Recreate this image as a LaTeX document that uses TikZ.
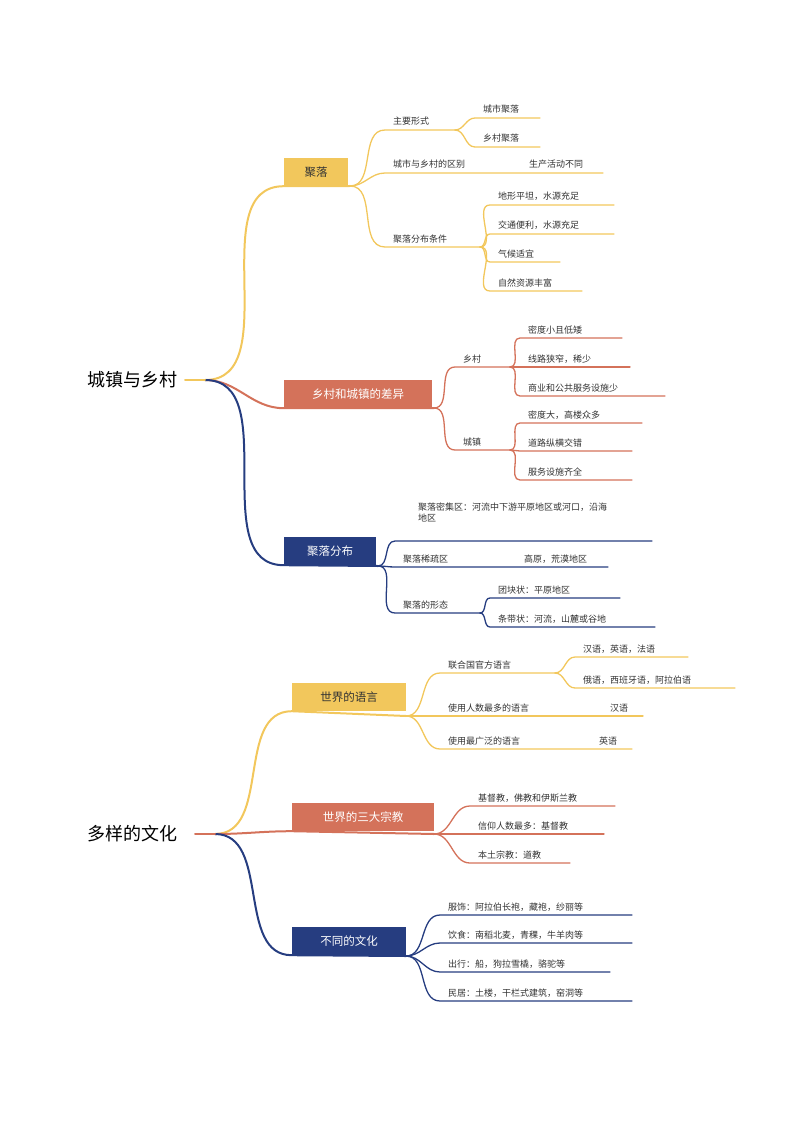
\documentclass[tikz,border=0pt]{standalone}
\usepackage{fontspec}
\setmainfont{Noto Sans CJK SC}
\definecolor{cy}{HTML}{F2C75C}
\definecolor{co}{HTML}{D4725A}
\definecolor{cn}{HTML}{263D80}
\definecolor{ct}{HTML}{333333}
\tikzset{
  txt/.style={font=\fontsize{9}{10.5}\selectfont, text=ct, inner sep=0pt},
  mainbr/.style={line width=2pt, line cap=round},
  subbr/.style={line width=1.3pt, line cap=round},
  boxy/.style={fill=#1, minimum height=28pt, inner sep=4pt, font=\fontsize{11.5}{13}\selectfont},
  rootn/.style={font=\fontsize{18}{20}\selectfont, text=black, inner sep=1pt}
}
% #1 color, #2 parent, #3 name, #4 x start, #5 x end, #6 y, #7 text
\newcommand\leaf[7]{%
  \coordinate (#3s) at (#4,#6); \coordinate (#3) at (#5,#6);
  \draw[#1,subbr] (#2) to[out=0,in=180] (#3s) -- (#3);
  \node[txt,anchor=base west] (#3t) at ({#4+8},{#6-5}) {#7};}
\begin{document}
\begin{tikzpicture}[x=1pt,y=-1pt]
\useasboundingbox (0,0) rectangle (794,1123);
% ===== root 1
\node[rootn] (r1) at (132,380) {城镇与乡村};
\coordinate (r1e) at (205,380);
\node[boxy=cy,text=ct,minimum width=64pt] (b1) at (316,172) {聚落};
\node[boxy=co,text=white,minimum width=148pt] (b2) at (358,394) {乡村和城镇的差异};
\node[boxy=cn,text=white,minimum width=92pt] (b3) at (330,551) {聚落分布};
\coordinate (b1e) at (350,186); \coordinate (b2e) at (434,408); \coordinate (b3e) at (378,566);
\draw[cy,mainbr] (r1e) to[out=0,in=180] (b1.south west) -- (b1e);
\draw[co,mainbr] (r1e) to[out=0,in=180] (b2.south west) -- (b2e);
\draw[cn,mainbr] (r1e) to[out=0,in=180] (b3.south west) -- (b3e);
\draw[cy,mainbr] (185,380) -- (r1e);
% 聚落
\leaf{cy}{b1e}{a1}{385}{455}{130}{主要形式}
\leaf{cy}{a1}{a11}{475}{540}{118}{城市聚落}
\leaf{cy}{a1}{a12}{475}{540}{147}{乡村聚落}
\leaf{cy}{b1e}{a2}{385}{603}{173}{城市与乡村的区别}
\node[txt,anchor=base west] (a2b) at (529,168) {生产活动不同};
\leaf{cy}{b1e}{a3}{385}{480}{247}{聚落分布条件}
\leaf{cy}{a3}{a31}{490}{614}{205}{地形平坦，水源充足}
\leaf{cy}{a3}{a32}{490}{614}{234}{交通便利，水源充足}
\leaf{cy}{a3}{a33}{490}{560}{262}{气候适宜}
\leaf{cy}{a3}{a34}{490}{582}{291}{自然资源丰富}
% 差异
\leaf{co}{b2e}{c1}{455}{510}{367}{乡村}
\leaf{co}{b2e}{c2}{455}{510}{450}{城镇}
\leaf{co}{c1}{c11}{520}{622}{338}{密度小且低矮}
\leaf{co}{c1}{c12}{520}{630}{367}{线路狭窄，稀少}
\leaf{co}{c1}{c13}{520}{665}{396}{商业和公共服务设施少}
\leaf{co}{c2}{c21}{520}{642}{423}{密度大，高楼众多}
\leaf{co}{c2}{c22}{520}{632}{451}{道路纵横交错}
\leaf{co}{c2}{c23}{520}{632}{480}{服务设施齐全}
% 聚落分布
\coordinate (d1s) at (395,541); \coordinate (d1) at (652,541);
\draw[cn,subbr] (b3e) to[out=0,in=180] (d1s) -- (d1);
\node[txt,anchor=base west,align=left] (d1t) at (418,521) {聚落密集区：河流中下游平原地区或河口，沿海\\地区};
\leaf{cn}{b3e}{d2}{395}{608}{567}{聚落稀疏区}
\node[txt,anchor=base west] (d2b) at (524,562) {高原，荒漠地区};
\leaf{cn}{b3e}{d3}{395}{480}{613}{聚落的形态}
\leaf{cn}{d3}{d31}{490}{620}{598}{团块状：平原地区}
\leaf{cn}{d3}{d32}{490}{655}{627}{条带状：河流，山麓或谷地}
% ===== root 2
\node[rootn] (r2) at (132,834) {多样的文化};
\coordinate (r2e) at (215,834);
\node[boxy=cy,text=ct,minimum width=114pt] (e1) at (349,697) {世界的语言};
\node[boxy=co,text=white,minimum width=142pt] (e2) at (363,817) {世界的三大宗教};
\node[boxy=cn,text=white,minimum width=114pt] (e3) at (349,941) {不同的文化};
\coordinate (e1e) at (406,716); \coordinate (e2e) at (434,834); \coordinate (e3e) at (406,956);
\draw[cy,mainbr] (r2e) to[out=0,in=180] (e1.south west) -- (e1e);
\draw[co,mainbr] (r2e) to[out=0,in=180] (e2.south west) -- (e2e);
\draw[cn,mainbr] (r2e) to[out=0,in=180] (e3.south west) -- (e3e);
\draw[co,mainbr] (195,834) -- (r2e);
% 语言
\leaf{cy}{e1e}{f1}{440}{555}{673}{联合国官方语言}
\leaf{cy}{f1}{f11}{575}{688}{657}{汉语，英语，法语}
\leaf{cy}{f1}{f12}{575}{735}{688}{俄语，西班牙语，阿拉伯语}
\leaf{cy}{e1e}{f2}{440}{643}{716}{使用人数最多的语言}
\node[txt,anchor=base west] (f2b) at (610,711) {汉语};
\leaf{cy}{e1e}{f3}{440}{632}{749}{使用最广泛的语言}
\node[txt,anchor=base west] (f3b) at (599,744) {英语};
% 宗教
\leaf{co}{e2e}{g1}{470}{615}{806}{基督教，佛教和伊斯兰教}
\leaf{co}{e2e}{g2}{470}{604}{834}{信仰人数最多：基督教}
\leaf{co}{e2e}{g3}{470}{570}{863}{本土宗教：道教}
% 文化
\leaf{cn}{e3e}{h1}{440}{632}{915}{服饰：阿拉伯长袍，藏袍，纱丽等}
\leaf{cn}{e3e}{h2}{440}{632}{943}{饮食：南稻北麦，青稞，牛羊肉等}
\leaf{cn}{e3e}{h3}{440}{610}{972}{出行：船，狗拉雪橇，骆驼等}
\leaf{cn}{e3e}{h4}{440}{632}{1001}{民居：土楼，干栏式建筑，窑洞等}
\end{tikzpicture}
\end{document}
